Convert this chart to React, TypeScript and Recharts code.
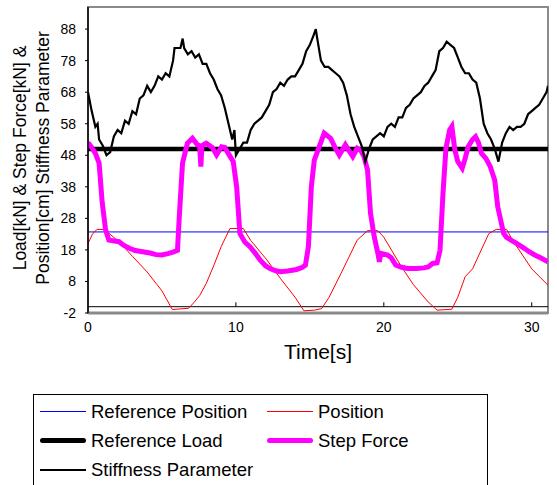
import { LineChart, Line, XAxis, YAxis, ReferenceLine, ReferenceArea } from 'recharts'

// time axis ticks and value axis ticks
const xTicks = [0, 10, 20, 30]
const yTicks = [-2, 8, 18, 28, 38, 48, 58, 68, 78, 88]

// Reference Position / Reference Load are flat lines
const refPositionT = [0, 31.1]
const refPositionV = [23.7, 23.7]
const refLoadT = [0, 31.1]
const refLoadV = [50, 50]

// Position [cm]
const positionT = [0, 0.3, 0.6, 1.1, 2.1, 3, 4, 5, 5.7, 6.8, 7.2, 7.56, 8, 8.5, 9, 9.6, 10.5, 11, 12.1, 13, 14, 14.6, 15.3, 15.8, 16.3, 17.1, 18.2, 18.9, 19.6, 20, 21.2, 22, 23, 23.6, 24.6, 25, 25.5, 26, 27.1, 27.6, 28.3, 28.7, 30, 31.1]
const positionV = [20, 23, 24.5, 24.5, 20.6, 16, 11, 5, -0.9, -0.5, 1.5, 3.6, 7.4, 13, 19, 24.8, 24.8, 21, 14.8, 9, 3, -1.3, -1.1, -0.6, 3, 10.5, 21.1, 24.1, 24.1, 22, 12.6, 7, 1.5, -1.1, -0.8, 3, 9.5, 12, 23.2, 24.5, 24.5, 21.1, 12, 6.8]

// Step Force [kN]
const forceT = [0, 0.25, 0.5, 0.75, 0.96, 1.19, 1.41, 1.8, 2.1, 2.4, 2.8, 3.2, 3.7, 4.2, 4.6, 5, 5.4, 5.8, 6.05, 6.16, 6.39, 6.72, 7.06, 7.4, 7.55, 7.63, 7.7, 7.99, 8.4, 8.69, 9.03, 9.25, 9.48, 9.82, 10.05, 10.27, 10.6, 10.95, 11.3, 11.63, 12, 12.3, 12.7, 13, 13.5, 14.1, 14.5, 14.7, 14.9, 15.1, 15.3, 15.5, 15.97, 16.4, 16.7, 16.99, 17.4, 17.9, 18.2, 18.45, 18.66, 18.9, 19.1, 19.35, 19.6, 19.7, 19.8, 20.25, 20.5, 20.8, 21.2, 21.6, 22.2, 22.7, 23, 23.3, 23.6, 23.8, 24, 24.2, 24.45, 24.6, 24.8, 25, 25.3, 25.5, 25.7, 26, 26.2, 26.4, 26.6, 26.9, 27.2, 27.5, 27.7, 28.1, 28.3, 28.6, 29, 29.5, 29.8, 30.2, 30.6, 31.1]
const forceV = [52, 50.5, 48.6, 45.5, 33, 24.3, 21.1, 20.8, 20.6, 19.5, 18.5, 17.8, 17.4, 17, 16.5, 16.4, 16.8, 17.4, 17.9, 27.5, 45.5, 51.8, 53.4, 51.3, 51, 44.4, 51, 51.8, 50.5, 48.1, 50.7, 50.5, 48.6, 46, 38, 23.2, 20.5, 19, 17, 14.8, 13, 12.1, 11.4, 11.1, 11.3, 11.8, 12.5, 13.2, 19, 38, 46.5, 49, 55, 53.4, 50.5, 48.1, 51.3, 47.6, 50.2, 49.5, 47.6, 43.3, 29.6, 22.2, 16.9, 14.2, 16.9, 16.4, 15.5, 13.2, 12.5, 12.1, 12.1, 12.3, 12.6, 13.7, 13.9, 17.9, 35.9, 50.2, 56, 57.1, 49.7, 46, 43.9, 47, 50.7, 53, 53.9, 52, 48.6, 47, 44.4, 40.1, 31.7, 23.2, 22, 21.1, 20, 18.5, 17.5, 16.4, 15.5, 14.2]

// Stiffness Parameter
const stiffT = [0, 0.25, 0.5, 0.65, 0.75, 1, 1.25, 1.5, 1.75, 2, 2.25, 2.5, 2.75, 3, 3.25, 3.5, 3.75, 4, 4.25, 4.5, 4.75, 5, 5.25, 5.5, 5.75, 5.85, 6, 6.25, 6.4, 6.5, 6.75, 7, 7.25, 7.5, 7.75, 8, 8.25, 8.5, 8.75, 9, 9.25, 9.5, 9.75, 9.9, 10, 10.25, 10.5, 10.75, 11, 11.25, 11.5, 11.75, 12, 12.25, 12.5, 12.75, 13, 13.25, 13.5, 13.75, 14, 14.25, 14.5, 14.75, 15, 15.25, 15.4, 15.5, 15.75, 16, 16.25, 16.5, 16.75, 17, 17.25, 17.5, 17.75, 18, 18.25, 18.5, 18.75, 19, 19.25, 19.5, 19.75, 20, 20.25, 20.5, 20.75, 21, 21.25, 21.5, 21.75, 22, 22.25, 22.5, 22.75, 23, 23.25, 23.5, 23.75, 24, 24.25, 24.5, 24.75, 25, 25.25, 25.5, 25.75, 26, 26.25, 26.5, 26.75, 27, 27.25, 27.5, 27.75, 28, 28.25, 28.5, 28.75, 29, 29.25, 29.5, 29.75, 30, 30.25, 30.5, 30.75, 31, 31.1]
const stiffV = [68, 62, 57, 58, 53, 51, 48, 49, 54, 56, 55, 59, 58, 62, 61, 66, 67, 70, 68, 70, 73, 72, 74, 73, 78, 82, 82, 82, 85, 82, 80, 81, 79, 80, 77, 77, 74, 72, 69, 67, 63, 58, 53, 56, 48, 50, 52, 52, 56, 58, 59, 60, 62, 64, 68, 69, 71, 70, 72, 73, 73, 75, 77, 81, 83, 86, 88, 85, 78, 76, 76, 75, 74, 73, 71, 67, 61, 57, 54, 51, 46, 50, 53, 54, 55, 54, 57, 58, 57, 60, 60, 63, 64, 66, 67, 68, 70, 71, 73, 75, 81, 82, 84, 83, 82, 79, 76, 74, 74, 72, 71, 66, 58, 55, 53, 50, 46, 52, 55, 57, 56, 57, 57, 58, 61, 62, 63, 64, 66, 68, 70]

const zip = (t: number[], v: number[]) => t.map((x, i) => ({ t: x, v: v[i] }))

const FONT = '"Liberation Sans", Arial, sans-serif'

const legendItems = [
  { name: 'Reference Position', color: '#0000ff', width: 1 },
  { name: 'Position', color: '#ff0000', width: 1 },
  { name: 'Reference Load', color: '#000000', width: 5 },
  { name: 'Step Force', color: '#ff00ff', width: 5 },
  { name: 'Stiffness Parameter', color: '#000000', width: 2 },
]

function YTitle(props: any) {
  const { viewBox } = props
  const cy = viewBox.y + viewBox.height / 2 - 2
  return (
    <g fontFamily={FONT} fontSize={17.5} fill="#000">
      <text x={20} y={cy} textAnchor="middle" dominantBaseline="central" transform={`rotate(-90 20 ${cy})`}>
        Load[kN] &amp; Step Force[kN] &amp;
      </text>
      <text x={43} y={cy} textAnchor="middle" dominantBaseline="central" transform={`rotate(-90 43 ${cy})`}>
        Position[cm] Stiffness Parameter
      </text>
    </g>
  )
}

export default function App() {
  return (
    <div style={{ position: 'absolute', left: 0, top: 0, width: 557, height: 485, overflow: 'hidden', background: '#fff' }}>
      <LineChart width={557} height={485} margin={{ top: 7, right: 9, left: 0, bottom: 0 }}>
        <XAxis
          dataKey="t"
          type="number"
          domain={[0, 31.1]}
          ticks={xTicks}
          tickLine={false}
          tickSize={0}
          tickMargin={9}
          axisLine={{ stroke: '#8a8a8a', strokeWidth: 3 }}
          tick={{ fontSize: 14, fill: '#000', fontFamily: FONT }}
          height={172}
          allowDataOverflow
          label={{ value: 'Time[s]', position: 'insideTop', offset: 31, fontSize: 21, fill: '#000', fontFamily: FONT }}
        />
        <YAxis
          type="number"
          domain={[-2, 95]}
          ticks={yTicks}
          width={88}
          tickSize={3}
          tickMargin={9}
          tickLine={{ stroke: '#000' }}
          axisLine={{ stroke: '#000', strokeWidth: 1.5 }}
          tick={{ fontSize: 14, fill: '#000', fontFamily: FONT }}
          allowDataOverflow
          label={<YTitle />}
        />
        <ReferenceArea x1={0} x2={31.1} y1={-2} y2={95} fill="none" stroke="#8a8a8a" strokeWidth={2} />
        <ReferenceLine y={0} stroke="#000" strokeWidth={1} />
        {xTicks.slice(1).map((t) => (
          <ReferenceLine key={t} segment={[{ x: t, y: 0 }, { x: t, y: 1.4 }]} stroke="#000" />
        ))}
        <Line data={zip(refPositionT, refPositionV)} dataKey="v" stroke="#0000ff" strokeWidth={1} dot={false} isAnimationActive={false} />
        <Line data={zip(positionT, positionV)} dataKey="v" stroke="#ff0000" strokeWidth={1} dot={false} isAnimationActive={false} />
        <Line data={zip(refLoadT, refLoadV)} dataKey="v" stroke="#000" strokeWidth={4.5} dot={false} isAnimationActive={false} />
        <Line data={zip(forceT, forceV)} dataKey="v" stroke="#ff00ff" strokeWidth={5} dot={false} isAnimationActive={false} />
        <Line data={zip(stiffT, stiffV)} dataKey="v" stroke="#000" strokeWidth={2.2} dot={false} isAnimationActive={false} />
      </LineChart>
      {/* legend box, cut off by the bottom edge like the original */}
      <div
        style={{
          position: 'absolute',
          left: 33,
          top: 394,
          width: 455,
          height: 100,
          border: '1px solid #000',
          fontFamily: FONT,
          fontSize: 18.5,
          boxSizing: 'border-box',
        }}
      >
        {legendItems.map((it, i) => (
          <div
            key={it.name}
            style={{
              position: 'absolute',
              left: i % 2 === 0 ? 6 : 233,
              top: 4 + Math.floor(i / 2) * 29,
              height: 25,
              display: 'flex',
              alignItems: 'center',
              whiteSpace: 'nowrap',
            }}
          >
            <div style={{ width: 46, height: it.width, background: it.color, borderRadius: it.width > 2 ? 3 : 0 }} />
            <span style={{ marginLeft: 5 }}>{it.name}</span>
          </div>
        ))}
      </div>
    </div>
  )
}
